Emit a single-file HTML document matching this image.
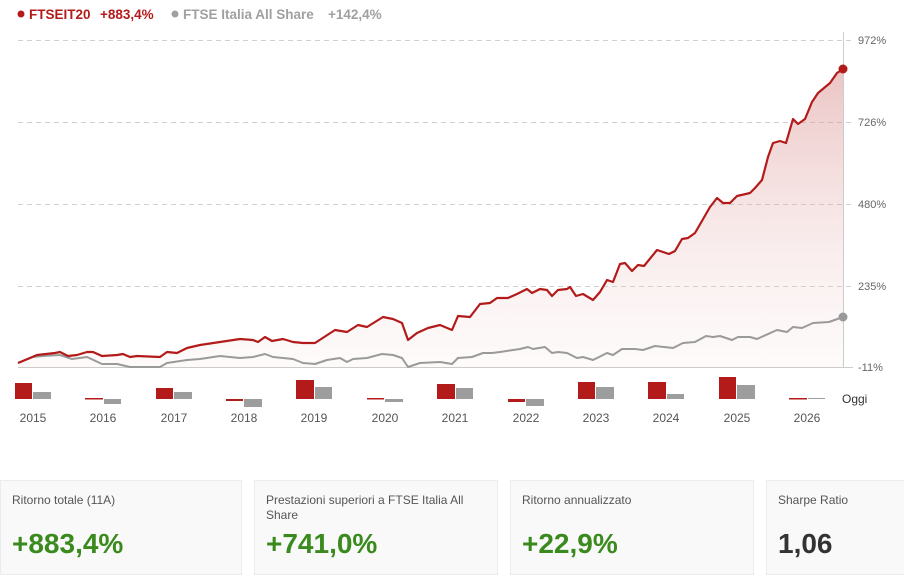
<!DOCTYPE html>
<html><head><meta charset="utf-8"><style>
body{margin:0;width:904px;height:581px;background:#fff;font-family:"Liberation Sans",Arial,sans-serif;overflow:hidden;position:relative}
.card{position:absolute;top:480px;height:95px;background:#f9f9f9;border:1px solid #ececec;box-sizing:border-box}
.lab{position:absolute;left:11px;top:12px;font-size:12px;color:#555;line-height:15px}
.val{position:absolute;left:11px;top:47px;font-size:28px;font-weight:bold;color:#3a8a1e}
</style></head><body>
<svg width="904" height="470" style="position:absolute;left:0;top:0" font-family="Liberation Sans, Arial, sans-serif">
<defs><linearGradient id="g" gradientUnits="userSpaceOnUse" x1="0" y1="69" x2="0" y2="367">
<stop offset="0" stop-color="#d88a8a" stop-opacity="0.5"/><stop offset="1" stop-color="#f4d9d9" stop-opacity="0.12"/></linearGradient></defs>
<circle cx="21" cy="14" r="3.5" fill="#b31b1b"/>
<text x="29" y="19" font-size="13.5" font-weight="bold" fill="#b31b1b">FTSEIT20</text>
<text x="100" y="19" font-size="13.5" font-weight="bold" fill="#b31b1b">+883,4%</text>
<circle cx="175" cy="14" r="3.5" fill="#a0a0a0"/>
<text x="183" y="19" font-size="13.5" font-weight="bold" fill="#a0a0a0">FTSE Italia All Share</text>
<text x="328" y="19" font-size="13.5" font-weight="bold" fill="#a0a0a0">+142,4%</text>
<g stroke="#d0d0d0" stroke-dasharray="5,4" stroke-width="1">
<line x1="18" y1="40.5" x2="853" y2="40.5"/><line x1="18" y1="122.5" x2="853" y2="122.5"/><line x1="18" y1="204.5" x2="853" y2="204.5"/><line x1="18" y1="286.5" x2="853" y2="286.5"/></g>
<path d="M18,363 L37,355 55,353 60,352 68,356 77,355 87,352 93,352 102,356 117,355 123,354 130,357 137,356 160,357 167,352 177,353 187,348 200,345 220,342 240,339 253,340 258,342 265,337 272,341 283,339 293,342 303,343 315,343 335,330 347,332 358,325 367,327 383,317 393,319 402,323 408,340 417,333 428,328 440,325 452,330 458,316 470,317 480,304 490,303 497,298 508,298 517,294 527,289 532,293 540,289 547,290 552,296 558,290 567,289 570,287 576,296 583,294 593,300 600,292 607,280 613,282 620,264 625,263 632,271 638,265 644,266 657,250 669,254 675,251 682,239 688,238 695,233 710,207 717,198 723,203 730,203 737,196 750,193 755,188 762,180 768,157 773,143 780,141 786,143 793,119 798,124 805,119 812,102 818,93 830,83 837,73 843,69 L843,367 L18,367 Z" fill="url(#g)"/>
<line x1="18" y1="367.5" x2="853" y2="367.5" stroke="#ccc"/>
<line x1="843.5" y1="32" x2="843.5" y2="367" stroke="#ccc"/>
<g font-size="11" fill="#666"><text x="858" y="44">972%</text><text x="858" y="126">726%</text><text x="858" y="208">480%</text><text x="858" y="290">235%</text><text x="858" y="371">-11%</text></g>
<path d="M18,363 L33,357 43,356 60,355 72,359 87,357 102,364 117,364 130,367 160,367 167,363 187,360 200,359 220,356 240,358 253,357 265,354 273,357 293,359 303,363 315,364 327,360 340,358 347,362 353,359 367,358 382,354 393,355 402,358 408,367 420,363 440,362 452,364 458,358 472,357 483,353 492,353 500,352 520,349 528,347 533,349 545,347 552,353 558,352 567,353 577,358 583,357 593,360 607,353 613,355 622,349 635,349 643,350 655,346 673,348 683,343 695,342 706,336 713,337 720,336 732,340 738,337 750,337 757,339 777,330 787,332 793,327 802,328 813,323 829,322 843,317" fill="none" stroke="#9a9a9a" stroke-width="2" stroke-linejoin="round"/>
<path d="M18,363 L37,355 55,353 60,352 68,356 77,355 87,352 93,352 102,356 117,355 123,354 130,357 137,356 160,357 167,352 177,353 187,348 200,345 220,342 240,339 253,340 258,342 265,337 272,341 283,339 293,342 303,343 315,343 335,330 347,332 358,325 367,327 383,317 393,319 402,323 408,340 417,333 428,328 440,325 452,330 458,316 470,317 480,304 490,303 497,298 508,298 517,294 527,289 532,293 540,289 547,290 552,296 558,290 567,289 570,287 576,296 583,294 593,300 600,292 607,280 613,282 620,264 625,263 632,271 638,265 644,266 657,250 669,254 675,251 682,239 688,238 695,233 710,207 717,198 723,203 730,203 737,196 750,193 755,188 762,180 768,157 773,143 780,141 786,143 793,119 798,124 805,119 812,102 818,93 830,83 837,73 843,69" fill="none" stroke="#b31b1b" stroke-width="2.2" stroke-linejoin="round"/>
<circle cx="843" cy="69" r="4.5" fill="#b31b1b"/>
<circle cx="843" cy="317" r="4.5" fill="#9a9a9a"/>
<g fill="#b31b1b">
<rect x="15" y="383" width="17" height="16"/><rect x="85" y="398" width="18" height="1.5"/><rect x="156" y="388" width="17" height="11"/><rect x="226" y="399" width="17" height="2"/><rect x="296" y="380" width="18" height="19"/><rect x="367" y="398" width="17" height="1.5"/><rect x="437" y="384" width="18" height="15"/><rect x="508" y="399" width="17" height="3"/><rect x="578" y="382" width="17" height="17"/><rect x="648" y="382" width="18" height="17"/><rect x="719" y="377" width="17" height="22"/><rect x="789" y="398" width="18" height="1.5"/></g>
<g fill="#9d9d9d">
<rect x="33" y="392" width="18" height="7"/><rect x="104" y="399" width="17" height="5"/><rect x="174" y="392" width="18" height="7"/><rect x="244" y="399" width="18" height="8"/><rect x="315" y="387" width="17" height="12"/><rect x="385" y="399" width="18" height="3"/><rect x="456" y="388" width="17" height="11"/><rect x="526" y="399" width="18" height="7"/><rect x="596" y="387" width="18" height="12"/><rect x="667" y="394" width="17" height="5"/><rect x="737" y="385" width="18" height="14"/><rect x="808" y="398" width="17" height="1"/></g>
<g font-size="12" fill="#555" text-anchor="middle">
<text x="33" y="422">2015</text><text x="103" y="422">2016</text><text x="174" y="422">2017</text><text x="244" y="422">2018</text><text x="314" y="422">2019</text><text x="385" y="422">2020</text><text x="455" y="422">2021</text><text x="526" y="422">2022</text><text x="596" y="422">2023</text><text x="666" y="422">2024</text><text x="737" y="422">2025</text><text x="807" y="422">2026</text></g>
<text x="842" y="403" font-size="12" fill="#333">Oggi</text>
</svg>
<div class="card" style="left:0;width:242px"><div class="lab">Ritorno totale (11A)</div><div class="val">+883,4%</div></div>
<div class="card" style="left:254px;width:244px"><div class="lab">Prestazioni superiori a FTSE Italia All<br>Share</div><div class="val">+741,0%</div></div>
<div class="card" style="left:510px;width:244px"><div class="lab">Ritorno annualizzato</div><div class="val">+22,9%</div></div>
<div class="card" style="left:766px;width:150px"><div class="lab">Sharpe Ratio</div><div class="val" style="color:#333">1,06</div></div>
</body></html>
